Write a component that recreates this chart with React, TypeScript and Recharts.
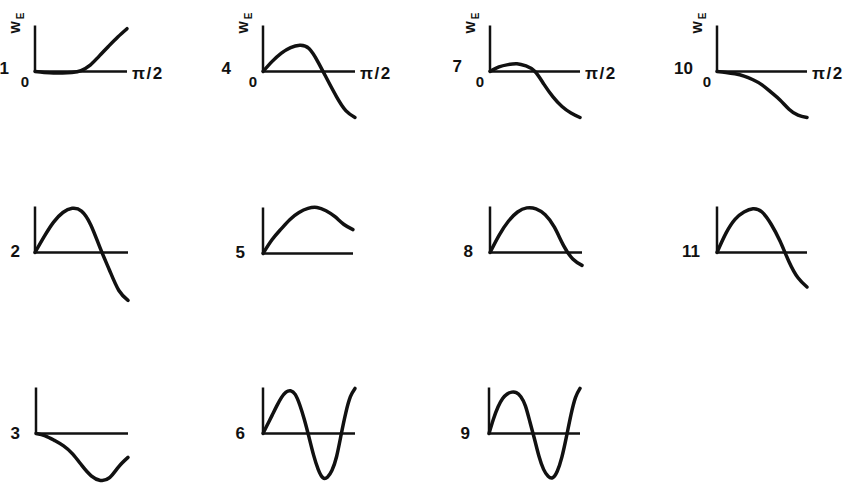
import { LineChart, Line, XAxis, YAxis, ReferenceLine } from 'recharts';

// x runs from 0 to pi/2, scaled to 0..1
const X11 = [0, 0.1, 0.2, 0.3, 0.4, 0.5, 0.6, 0.7, 0.8, 0.9, 1];
const X21 = [0, 0.05, 0.1, 0.15, 0.2, 0.25, 0.3, 0.35, 0.4, 0.45, 0.5, 0.55, 0.6, 0.65, 0.7, 0.75, 0.8, 0.85, 0.9, 0.95, 1];

// W_E curves, one per case
const W1 = [0, -0.02, -0.03, -0.03, -0.02, 0.02, 0.14, 0.34, 0.55, 0.75, 0.93];
const W2 = [0, 0.35, 0.66, 0.87, 0.96, 0.9, 0.6, 0.1, -0.38, -0.82, -1.04];
const W3 = [0, -0.05, -0.15, -0.27, -0.45, -0.7, -0.92, -1.02, -0.96, -0.72, -0.52];
const W4 = [0, 0.22, 0.4, 0.52, 0.57, 0.5, 0.2, -0.18, -0.55, -0.85, -1.0];
const W5 = [0, 0.3, 0.53, 0.74, 0.89, 0.98, 1.0, 0.93, 0.8, 0.63, 0.52];
const W6 = [0, 0.2, 0.4, 0.6, 0.78, 0.9, 0.93, 0.85, 0.62, 0.3, -0.08, -0.47, -0.78, -0.96, -0.95, -0.8, -0.5, -0.02, 0.45, 0.8, 0.98];
const W7 = [0, 0.1, 0.15, 0.17, 0.12, 0.0, -0.28, -0.55, -0.76, -0.9, -1.0];
const W8 = [0, 0.38, 0.68, 0.88, 0.97, 0.95, 0.82, 0.55, 0.15, -0.14, -0.28];
const W9 = [0, 0.32, 0.58, 0.76, 0.86, 0.9, 0.89, 0.8, 0.6, 0.25, -0.12, -0.5, -0.78, -0.93, -0.96, -0.82, -0.52, -0.08, 0.4, 0.78, 0.98];
const W10 = [0, -0.02, -0.05, -0.1, -0.18, -0.29, -0.45, -0.62, -0.82, -0.95, -1.0];
const W11 = [0, 0.42, 0.72, 0.88, 0.95, 0.88, 0.62, 0.25, -0.2, -0.55, -0.75];

const PANELS = [
  { id: '1', x: X11, y: W1 },
  { id: '4', x: X11, y: W4 },
  { id: '7', x: X11, y: W7 },
  { id: '10', x: X11, y: W10 },
  { id: '2', x: X11, y: W2 },
  { id: '5', x: X11, y: W5 },
  { id: '8', x: X11, y: W8 },
  { id: '11', x: X11, y: W11 },
  { id: '3', x: X11, y: W3 },
  { id: '6', x: X21, y: W6 },
  { id: '9', x: X21, y: W9 },
];

// origin position, axis length and number-label offset of each small plot
const LAYOUT: Record<string, { ox: number; oy: number; len: number; ndx: number; ndy: number; top: boolean }> = {
  '1': { ox: 35, oy: 71, len: 92, ndx: -26, ndy: -3, top: true },
  '4': { ox: 263, oy: 71, len: 92, ndx: -32, ndy: -3, top: true },
  '7': { ox: 490, oy: 71, len: 90, ndx: -28, ndy: -5, top: true },
  '10': { ox: 717, oy: 71, len: 90, ndx: -24, ndy: -3, top: true },
  '2': { ox: 35, oy: 252, len: 93, ndx: -15, ndy: -1, top: false },
  '5': { ox: 263, oy: 253, len: 90, ndx: -18, ndy: -1, top: false },
  '8': { ox: 490, oy: 252, len: 92, ndx: -17, ndy: -1, top: false },
  '11': { ox: 717, oy: 252, len: 90, ndx: -17, ndy: -1, top: false },
  '3': { ox: 36, oy: 433, len: 92, ndx: -16, ndy: 0, top: false },
  '6': { ox: 263, oy: 433, len: 92, ndx: -18, ndy: 0, top: false },
  '9': { ox: 489, oy: 433, len: 91, ndx: -19, ndy: 0, top: false },
};

const INK = '#111';
const FONT = '"Liberation Sans", Arial, sans-serif';
const UNIT = 46; // px for one unit of W_E
const Y_MAX = 1.25;
const M = { top: 22, right: 55, bottom: 10, left: 45 };

function XAxisText(props: any) {
  const { viewBox, id, ndx, ndy, top } = props;
  const x = viewBox.x;
  const y = viewBox.y;
  return (
    <g fontFamily={FONT} fontWeight="bold" fill={INK}>
      <text x={x + ndx} y={y + ndy} fontSize={17} textAnchor="end" dominantBaseline="central">{id}</text>
      {top && (
        <text x={x - 10} y={y + 10} fontSize={15} textAnchor="middle" dominantBaseline="central">0</text>
      )}
      {top && (
        <text x={x + viewBox.width + 5} y={y + 2} fontSize={17} letterSpacing={1.5} dominantBaseline="central">π/2</text>
      )}
    </g>
  );
}

function YAxisText(props: any) {
  const { viewBox, top } = props;
  if (!top) return null;
  const x = viewBox.x - 15;
  const y = viewBox.y + 8;
  return (
    <text x={x} y={y} transform={`rotate(-90 ${x} ${y})`} fontFamily={FONT} fontWeight="bold" fontSize={13} fill={INK}>
      W<tspan dx={2} dy={4} fontSize={10}>E</tspan>
    </text>
  );
}

function Panel({ id, x, y }: { id: string; x: number[]; y: number[] }) {
  const L = LAYOUT[id];
  const data = x.map((v, i) => ({ x: v, w: y[i] }));
  const plotH = 2 * Y_MAX * UNIT;
  return (
    <div style={{ position: 'absolute', left: L.ox - M.left, top: L.oy - Y_MAX * UNIT - M.top }}>
      <LineChart width={M.left + L.len + M.right} height={M.top + plotH + M.bottom} data={data} margin={M}>
        <XAxis type="number" dataKey="x" domain={[0, 1]} hide />
        <YAxis type="number" domain={[-Y_MAX, Y_MAX]} hide />
        <ReferenceLine
          segment={[{ x: 0, y: 0 }, { x: 0, y: 1 }]}
          stroke={INK}
          strokeWidth={2.5}
          label={<YAxisText top={L.top} />}
        />
        <ReferenceLine
          segment={[{ x: 0, y: 0 }, { x: 1, y: 0 }]}
          stroke={INK}
          strokeWidth={2.5}
          label={<XAxisText id={id} ndx={L.ndx} ndy={L.ndy} top={L.top} />}
        />
        <Line
          dataKey="w"
          type={id === '1' ? 'monotone' : 'natural'}
          stroke={INK}
          strokeWidth={3.5}
          strokeLinecap="round"
          dot={false}
          isAnimationActive={false}
        />
      </LineChart>
    </div>
  );
}

export default function App() {
  return (
    <div style={{ position: 'absolute', left: 0, top: 0, width: 847, height: 485, background: '#fff', overflow: 'hidden' }}>
      {PANELS.map((p) => (
        <Panel key={p.id} id={p.id} x={p.x} y={p.y} />
      ))}
    </div>
  );
}
